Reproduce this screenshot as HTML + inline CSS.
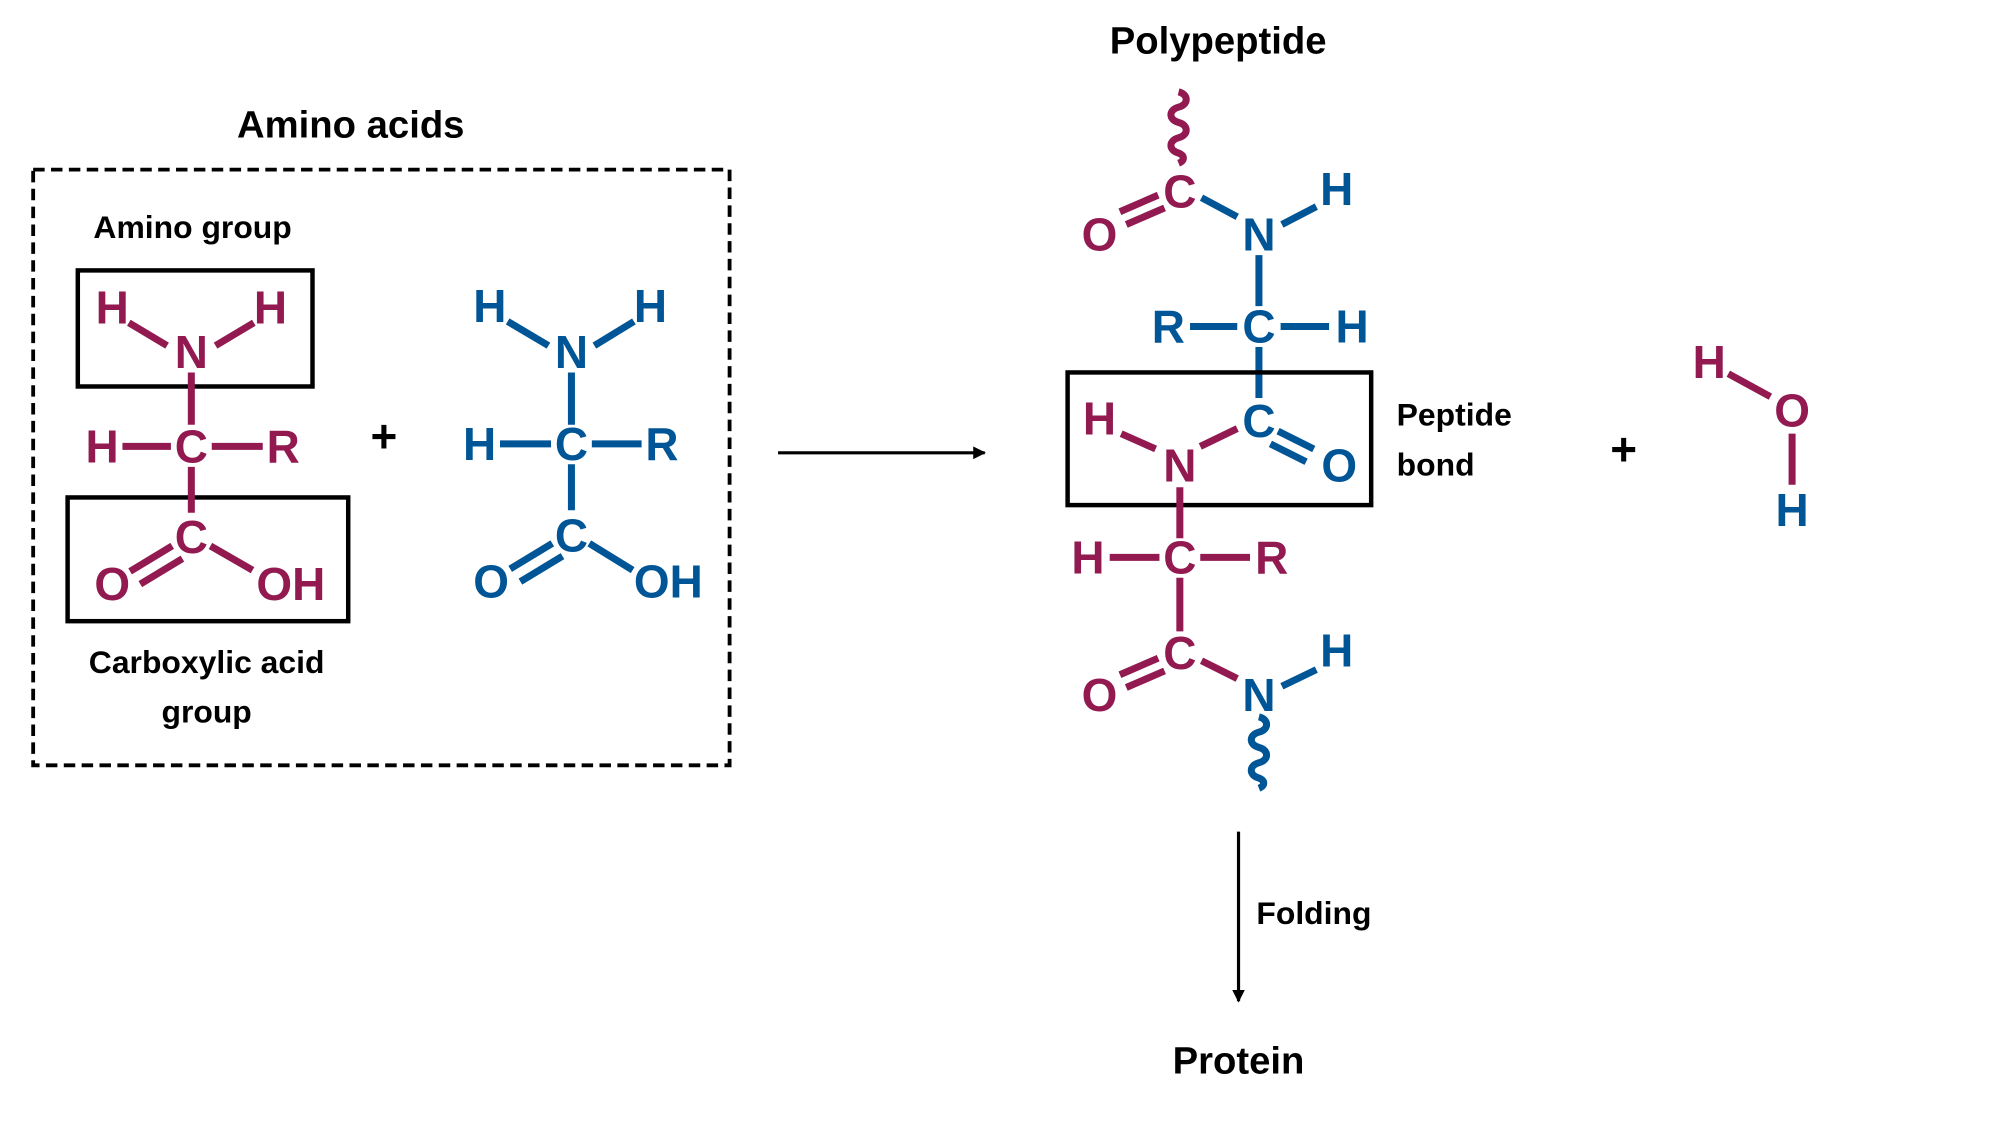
<!DOCTYPE html>
<html><head><meta charset="utf-8"><style>
html,body{margin:0;padding:0;background:#fff;}
svg{display:block;}
.m{fill:#921a50;font-family:"Liberation Sans",Arial,sans-serif;font-weight:bold;font-size:36px;}
.b{fill:#005596;font-family:"Liberation Sans",Arial,sans-serif;font-weight:bold;font-size:36px;}
.k{fill:#000;font-family:"Liberation Sans",Arial,sans-serif;font-weight:bold;}
.lm{stroke:#921a50;stroke-width:5.5;fill:none;}
.lb{stroke:#005596;stroke-width:5.5;fill:none;}
</style></head><body>
<svg width="2000" height="1125" viewBox="0 0 1568 882" xmlns="http://www.w3.org/2000/svg">
<defs><marker id="ah" markerWidth="10" markerHeight="10" refX="9" refY="5" orient="auto" markerUnits="userSpaceOnUse"><path d="M0,0 L10,5 L0,10 z" fill="#000"/></marker></defs>
<g text-anchor="middle" dominant-baseline="central">
<!-- left section -->
<text class="k" x="275" y="98" font-size="30">Amino acids</text>
<rect x="26" y="133" width="546" height="467" fill="none" stroke="#000" stroke-width="3" stroke-dasharray="9,5"/>
<text class="k" x="151" y="178" font-size="25">Amino group</text>
<text class="k" x="162" y="519" font-size="25">Carboxylic acid</text>
<text class="k" x="162" y="558" font-size="25">group</text>
<rect x="61" y="212" width="184" height="91" fill="none" stroke="#000" stroke-width="3.5"/>
<rect x="53" y="390" width="220" height="97" fill="none" stroke="#000" stroke-width="3.5"/>
<!-- maroon amino acid -->
<text class="m" x="88" y="241">H</text><text class="m" x="212" y="241">H</text>
<text class="m" x="150" y="276">N</text>
<path class="lm" d="M101,253 L131,271 M199,253 L169,271 M150,292 V333 M96,350 H134 M166,350 H206 M150,366 V402 M135,428 L102,448 M143,438 L110,458 M165,428 L198,447"/>
<text class="m" x="80" y="350">H</text><text class="m" x="150" y="350">C</text><text class="m" x="222" y="350">R</text>
<text class="m" x="150" y="421">C</text>
<text class="m" x="88" y="458">O</text><text class="m" x="228" y="458">OH</text>
<text class="k" x="301" y="342" font-size="36">+</text>
<!-- blue amino acid -->
<text class="b" x="384" y="240">H</text><text class="b" x="510" y="240">H</text>
<text class="b" x="448" y="276">N</text>
<path class="lb" d="M398,252 L430,271 M497,252 L466,271 M448,292 V333 M392,348 H432 M464,348 H503 M448,364 V400 M433,426 L400,446 M441,436 L408,456 M462,426 L496,447"/>
<text class="b" x="376" y="348">H</text><text class="b" x="448" y="348">C</text><text class="b" x="519" y="348">R</text>
<text class="b" x="448" y="420">C</text>
<text class="b" x="385" y="456">O</text><text class="b" x="524" y="456">OH</text>
<!-- arrow -->
<line x1="610" y1="355" x2="772" y2="355" stroke="#000" stroke-width="2.5" marker-end="url(#ah)"/>
<!-- polypeptide -->
<text class="k" x="955" y="32" font-size="30">Polypeptide</text>
<path class="lm" stroke-width="6" d="M924,72 c8,2 8,10 0,12 c-8,2 -8,10 0,12 c8,2 8,10 0,12 c-8,2 -8,10 0,12 c5,2 5,6 0,8"/>
<text class="m" x="925" y="150">C</text>
<path class="lm" d="M908,153 L878,166 M913,163 L883,176"/>
<text class="m" x="862" y="184">O</text>
<path class="lb" d="M942,155 L970,170 M1005,176 L1032,162 M987,200 V240 M933,256 H970 M1004,256 H1042 M987,272 V312 M1002,338 L1030,352 M996,348 L1024,362"/>
<text class="b" x="987" y="184">N</text><text class="b" x="1048" y="148">H</text>
<text class="b" x="916" y="256">R</text><text class="b" x="987" y="256">C</text><text class="b" x="1060" y="256">H</text>
<text class="b" x="987" y="330">C</text><text class="b" x="1050" y="365">O</text>
<rect x="837" y="292" width="238" height="104" fill="none" stroke="#000" stroke-width="3.5"/>
<path class="lm" d="M970,336 L941,350 M879,340 L906,352 M925,382 V422 M870,437 H909 M941,437 H980 M925,453 V495 M908,516 L878,529 M913,526 L883,539 M942,518 L970,532"/>
<text class="m" x="862" y="328">H</text><text class="m" x="925" y="365">N</text>
<text class="m" x="853" y="437">H</text><text class="m" x="925" y="437">C</text><text class="m" x="997" y="437">R</text>
<text class="m" x="925" y="512">C</text><text class="m" x="862" y="545">O</text>
<path class="lb" d="M1005,538 L1032,525"/>
<path class="lb" stroke-width="6" d="M987,562 c8,2 8,10 0,12 c-8,2 -8,10 0,12 c8,2 8,10 0,12 c-8,2 -8,10 0,12 c5,2 5,6 0,8"/>
<text class="b" x="987" y="545">N</text><text class="b" x="1048" y="510">H</text>
<text class="k" x="1095" y="325" font-size="25" text-anchor="start">Peptide</text>
<text class="k" x="1095" y="364" font-size="25" text-anchor="start">bond</text>
<text class="k" x="1273" y="352" font-size="36">+</text>
<!-- water -->
<path class="lm" d="M1355,293 L1388,311 M1405,340 V380"/>
<text class="m" x="1340" y="284">H</text><text class="m" x="1405" y="322">O</text>
<text class="b" x="1405" y="400">H</text>
<!-- folding -->
<line x1="971" y1="652" x2="971" y2="785" stroke="#000" stroke-width="2.5" marker-end="url(#ah)"/>
<text class="k" x="985" y="716" font-size="25" text-anchor="start">Folding</text>
<text class="k" x="971" y="832" font-size="30">Protein</text>
</g>
</svg>
</body></html>
